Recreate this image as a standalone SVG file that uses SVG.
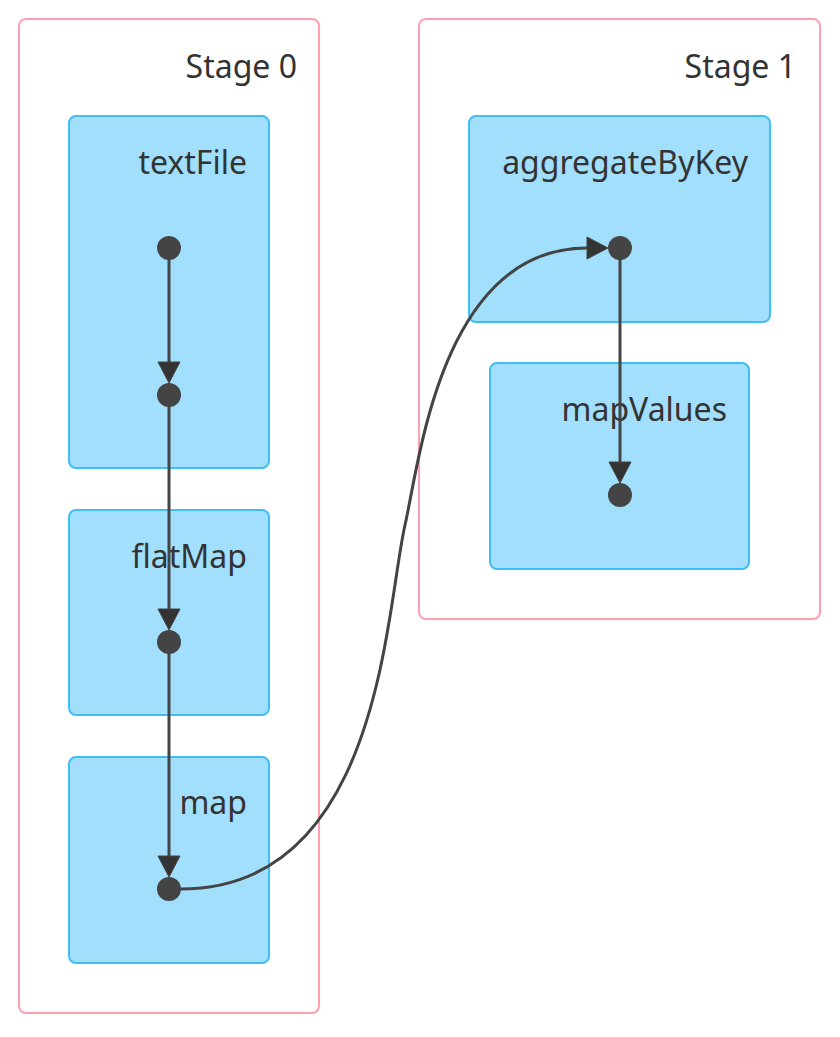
<svg xmlns="http://www.w3.org/2000/svg" width="840" height="1037" viewBox="0 0 840 1037">
<style>
.cluster{fill:#ffffff;stroke:#ff9fb0;stroke-width:2}
.node{fill:#a1dffd;stroke:#41bdf5;stroke-width:2}
.lbl{font-family:"Noto Sans","Open Sans","DejaVu Sans",sans-serif;font-size:32px;fill:#333333;text-anchor:end}
.dot{fill:#444444}
.edge{fill:none;stroke:#444444;stroke-width:3}
</style>
<defs>
<marker id="arrow" markerUnits="userSpaceOnUse" markerWidth="24" markerHeight="24" viewBox="-1 -1 24 24" refX="0" refY="11" orient="auto">
<path d="M0,0 L21,11 L0,22 Z" fill="#333333" stroke="#444444" stroke-width="1"/>
</marker>
</defs>
<g id="stage0">
<rect class="cluster" x="19" y="19" width="300" height="994" rx="7"/>
<text class="lbl" x="297" y="78">Stage 0</text>
</g>
<g id="stage1">
<rect class="cluster" x="419" y="19" width="401" height="600" rx="7"/>
<text class="lbl" x="796" y="78">Stage 1</text>
</g>
<g id="textFile">
<rect class="node" x="69" y="116" width="200" height="352" rx="7"/>
<text class="lbl" x="247" y="174">textFile</text>
</g>
<g id="flatMap">
<rect class="node" x="69" y="510" width="200" height="205" rx="7"/>
<text class="lbl" x="247" y="568">flatMap</text>
</g>
<g id="map">
<rect class="node" x="69" y="757" width="200" height="206" rx="7"/>
<text class="lbl" x="247" y="814">map</text>
</g>
<g id="aggregateByKey">
<rect class="node" x="469" y="116" width="301" height="206" rx="7"/>
<text class="lbl" x="748" y="174">aggregateByKey</text>
</g>
<g id="mapValues">
<rect class="node" x="490" y="363" width="259" height="206" rx="7"/>
<text class="lbl" x="727" y="421">mapValues</text>
</g>
<g id="connectors">
<path class="edge" d="M169,248 L169,362" marker-end="url(#arrow)"/>
<path class="edge" d="M169,395 L169,609" marker-end="url(#arrow)"/>
<path class="edge" d="M169,642 L169,856" marker-end="url(#arrow)"/>
<path class="edge" d="M181,889 C381,889 385.8,608.2 405,525 C419.4,462.6 441,248 587,248" marker-end="url(#arrow)"/>
<path class="edge" d="M620,248 L620,462" marker-end="url(#arrow)"/>
</g>
<g id="dots">
<circle class="dot" cx="169" cy="248" r="12"/>
<circle class="dot" cx="169" cy="395" r="12"/>
<circle class="dot" cx="169" cy="642" r="12"/>
<circle class="dot" cx="169" cy="889" r="12"/>
<circle class="dot" cx="620" cy="248" r="12"/>
<circle class="dot" cx="620" cy="495" r="12"/>
</g>
</svg>
